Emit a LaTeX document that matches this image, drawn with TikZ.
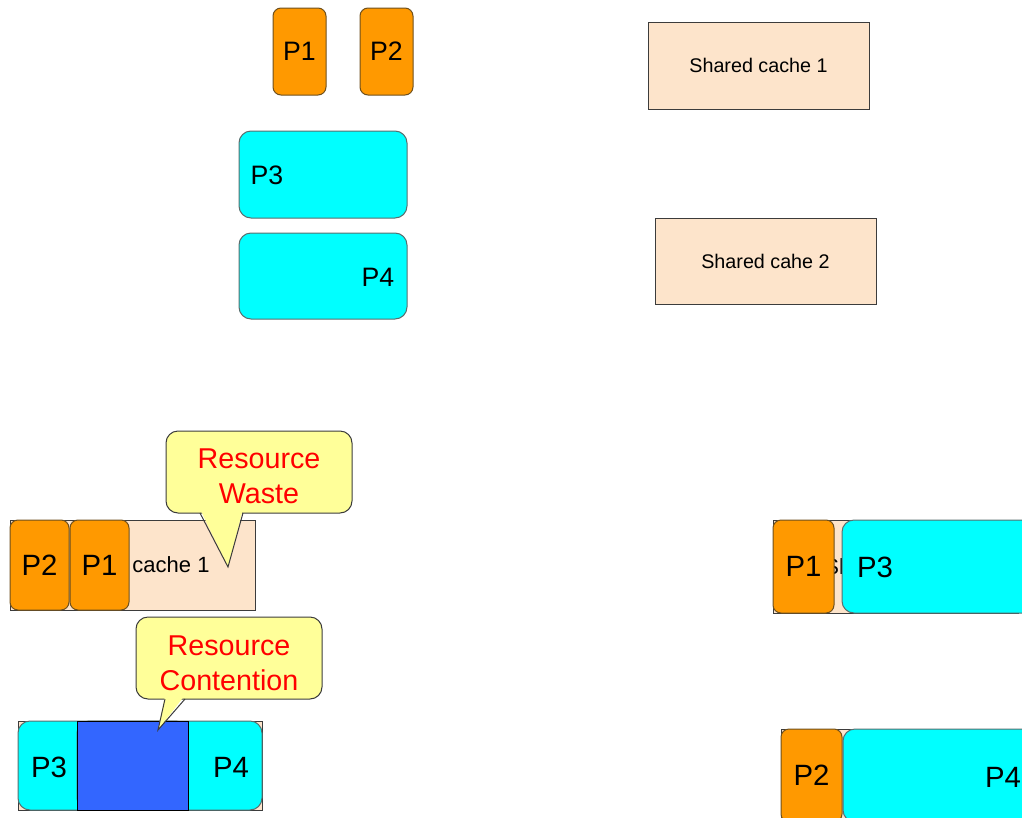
\documentclass[tikz,border=0pt]{standalone}
\usepackage{fontspec}
\setmainfont{Liberation Sans}
\definecolor{porange}{RGB}{255,153,0}
\definecolor{pcyan}{RGB}{0,255,255}
\definecolor{peach}{RGB}{253,228,203}
\definecolor{pblue}{RGB}{51,102,255}
\definecolor{pyellow}{RGB}{255,255,153}
\definecolor{pred}{RGB}{255,0,0}
\definecolor{oborder}{RGB}{110,80,30}
\definecolor{cborder}{RGB}{90,110,110}
\definecolor{kborder}{RGB}{60,60,60}
\tikzset{
  base/.style={inner sep=0pt, outer sep=0pt, line width=0.75pt},
  proc/.style={base, draw=oborder, fill=porange, rounded corners=6pt, font=\fontsize{20}{24}\selectfont},
  procb/.style={proc, font=\fontsize{22}{26}\selectfont},
  wide/.style={base, draw=cborder, fill=pcyan, rounded corners=9pt},
  cachebox/.style={base, draw=kborder, fill=peach, font=\fontsize{14.8}{18}\selectfont},
  cacheb/.style={cachebox, font=\fontsize{16.5}{20}\selectfont},
  lbl/.style={inner sep=0pt, font=\fontsize{20}{24}\selectfont},
  lblb/.style={inner sep=0pt, font=\fontsize{22}{26}\selectfont},
  callout/.style={base, draw=kborder, fill=pyellow, rounded corners=9pt},
  callouttext/.style={inner sep=0pt, text=pred, align=center, font=\fontsize{21.5}{26}\selectfont},
  tailfill/.style={fill=pyellow},
  taildraw/.style={draw=kborder, line width=0.75pt, line join=miter},
  overlapbox/.style={base, draw=black, fill=pblue}
}
\begin{document}
\begin{tikzpicture}[x=0.75pt,y=-0.75pt]
\useasboundingbox (0,0) rectangle (1022,818);
\clip (0,0) rectangle (1022,818);
% ---------- top row ----------
\node[proc, minimum width=39.75pt, minimum height=65.25pt] (tP1) at (299.5,51.5) {P1};
\node[proc, minimum width=39.75pt, minimum height=65.25pt] (tP2) at (386.5,51.5) {P2};
\node[wide, minimum width=126pt, minimum height=65.25pt] (tP3) at (323,174.5) {};
\node[lbl] (tP3l) at (267,175) {P3};
\node[wide, minimum width=126pt, minimum height=64.5pt] (tP4) at (323,276) {};
\node[lbl] (tP4l) at (378,277) {P4};
\node[cachebox, minimum width=165.75pt, minimum height=65.25pt] (sc1) at (758.5,65.5) {Shared cache 1};
\node[cachebox, minimum width=165.75pt, minimum height=64.5pt] (sc2) at (765.5,261) {Shared cahe 2};
% ---------- bottom left: waste ----------
\node[cacheb, minimum width=183.75pt, minimum height=67.5pt] (lc1) at (132.5,565) {Shared cache 1};
\node[procb, minimum width=44.25pt, minimum height=67.5pt] (lP2) at (39.5,565) {P2};
\node[procb, minimum width=44.25pt, minimum height=67.5pt] (lP1) at (99.5,565) {P1};
\node[callout, minimum width=139.5pt, minimum height=61.5pt] (waste) at (259,472) {};
\node[callouttext] (wastet) at (259,476) {Resource\\Waste};
\coordinate (wtip) at (228,567);
\coordinate (wa) at (200,513);
\coordinate (wb) at (243,513);
\fill[tailfill] ([yshift=3pt]wa) -- (wtip) -- ([yshift=3pt]wb) -- cycle;
\draw[taildraw] (wa) -- (wtip) -- (wb);
% ---------- bottom left: contention ----------
\node[base, draw=kborder, fill=peach, minimum width=183pt, minimum height=66.75pt] (lc2) at (140,765.5) {};
\node[wide, minimum width=127.5pt, minimum height=66.75pt] (lP3) at (103,765.5) {};
\node[wide, minimum width=138.75pt, minimum height=66.75pt] (lP4) at (169.5,765.5) {};
\node[overlapbox, minimum width=83.25pt, minimum height=66.75pt] (ovl) at (132.5,765.5) {};
\node[lblb] (lP3l) at (49,767) {P3};
\node[lblb] (lP4l) at (231,767) {P4};
\node[callout, minimum width=139.5pt, minimum height=61.5pt] (cont) at (229,658) {};
\node[callouttext] (contt) at (229,663) {Resource\\Contention};
\coordinate (ctip) at (158,730);
\coordinate (ca) at (165,699);
\coordinate (cb) at (185,699);
\fill[tailfill] ([yshift=3pt]ca) -- (ctip) -- ([yshift=3pt]cb) -- cycle;
\draw[taildraw] (ca) -- (ctip) -- (cb);
% ---------- bottom right ----------
\node[cacheb, minimum width=183.75pt, minimum height=69.75pt] (rc1) at (895.5,566.5) {\hspace*{9pt}Shared cache 1};
\node[procb, minimum width=45.75pt, minimum height=69.75pt] (rP1) at (803.5,566.5) {P1};
\node[wide, minimum width=156pt, minimum height=69.75pt] (rP3) at (946,566.5) {};
\node[lblb] (rP3l) at (875,567) {P3};
\node[base, draw=kborder, fill=peach, minimum width=183.75pt, minimum height=69.75pt] (rc2) at (903.5,775.5) {};
\node[procb, minimum width=45.75pt, minimum height=69.75pt] (rP2) at (811.5,775.5) {P2};
\node[wide, minimum width=147.75pt, minimum height=69.75pt] (rP4) at (941.5,775.5) {};
\node[lblb] (rP4l) at (1003,777) {P4};
\end{tikzpicture}
\end{document}
